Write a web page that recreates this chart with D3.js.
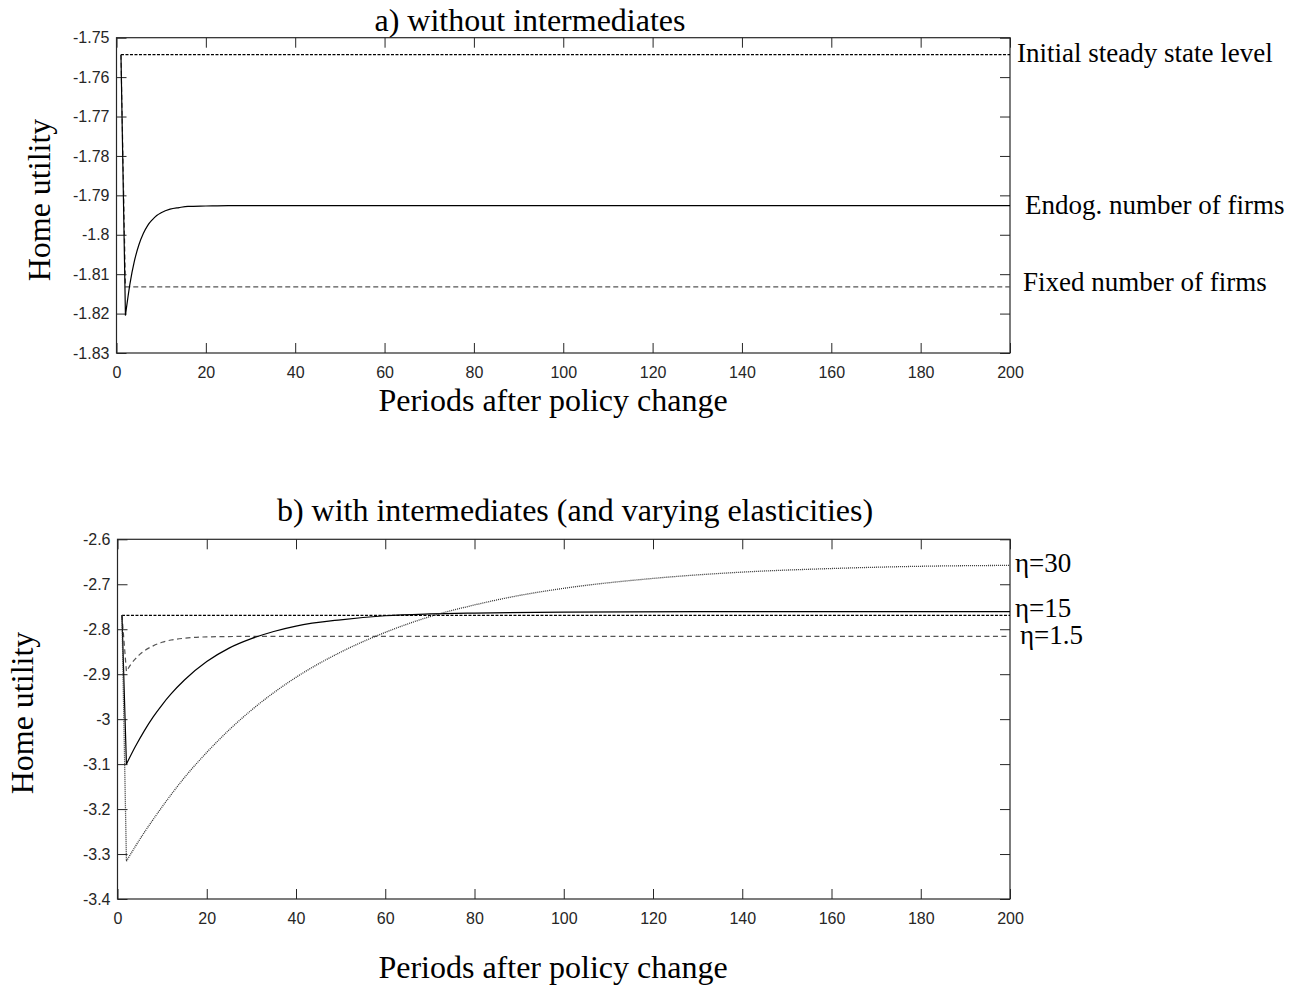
<!DOCTYPE html>
<html>
<head>
<meta charset="utf-8">
<script src="https://cdn.jsdelivr.net/npm/d3@7"></script>
<style>
  body { margin: 0; background: #fff; }
  .tick text { font-family: "Liberation Sans", Arial, sans-serif; font-size: 16px; fill: #262626; }
  .tick line { stroke: #262626; }
  .serif { font-family: "Liberation Serif", "Times New Roman", serif; fill: #000; }
</style>
</head>
<body>
<div id="chart"></div>
<script>
// tick values
var xTicks = [0, 20, 40, 60, 80, 100, 120, 140, 160, 180, 200];
var yTicksA = [-1.75, -1.76, -1.77, -1.78, -1.79, -1.8, -1.81, -1.82, -1.83];
var yTicksB = [-2.6, -2.7, -2.8, -2.9, -3, -3.1, -3.2, -3.3, -3.4];

// panel a) without intermediates
var initAPeriods = [1, 200];
var initAValues = [-1.7543, -1.7543];
var endogPeriods = [1, 2, 3, 4, 5, 6, 7, 8, 9, 10, 12, 14, 16, 20, 25, 200];
var endogValues = [-1.7543, -1.8205, -1.8125, -1.8067, -1.8026, -1.7997, -1.7976, -1.7962, -1.7951, -1.7944, -1.7935, -1.7931, -1.7928, -1.7927, -1.7926, -1.7926];
var fixedPeriods = [1, 2, 200];
var fixedValues = [-1.7543, -1.8132, -1.8132];

// panel b) with intermediates
var initBPeriods = [1, 200];
var initBValues = [-2.769, -2.769];
var eta15Periods = [1, 2, 4, 6, 8, 10, 12, 15, 20, 25, 30, 35, 40, 50, 60, 70, 80, 100, 130, 200];
var eta15Values = [-2.769, -3.100, -3.061, -3.026, -2.995, -2.968, -2.944, -2.913, -2.872, -2.842, -2.821, -2.805, -2.793, -2.779, -2.770, -2.766, -2.764, -2.762, -2.761, -2.761];
var eta1_5Periods = [1, 2, 3, 4, 5, 6, 8, 10, 12, 15, 20, 30, 200];
var eta1_5Values = [-2.769, -2.894, -2.878, -2.866, -2.856, -2.848, -2.837, -2.829, -2.824, -2.820, -2.817, -2.816, -2.816];
var eta30Periods = [1, 2, 4, 6, 8, 10, 15, 20, 25, 30, 40, 50, 60, 70, 80, 90, 100, 120, 140, 160, 180, 200];
var eta30Values = [-2.769, -3.316, -3.283, -3.252, -3.223, -3.195, -3.130, -3.074, -3.024, -2.980, -2.907, -2.851, -2.807, -2.772, -2.746, -2.725, -2.709, -2.687, -2.673, -2.665, -2.660, -2.658];

var svg = d3.select("#chart")
  .append("svg")
    .attr("width", 1300)
    .attr("height", 998);

svg.append("rect").attr("width", 1300).attr("height", 998).attr("fill", "#fff");

function fmt(d) { return String(+d.toFixed(2)); }

function drawPanel(p) {
  var x = d3.scaleLinear().domain([0, 200]).range([p.left, p.right]);
  var y = d3.scaleLinear().domain(p.yDomain).range([p.bottom, p.top]);
  var g = svg.append("g");

  // inward ticks on all four sides
  g.append("g")
    .attr("transform", "translate(0," + p.bottom + ")")
    .call(d3.axisBottom(x).tickValues(xTicks).tickSize(-10).tickSizeOuter(0).tickPadding(14).tickFormat(d3.format("d")));
  g.append("g")
    .attr("transform", "translate(0," + p.top + ")")
    .call(d3.axisTop(x).tickValues(xTicks).tickSize(-10).tickSizeOuter(0).tickFormat(""));
  g.append("g")
    .attr("transform", "translate(" + p.left + ",0)")
    .call(d3.axisLeft(y).tickValues(p.yTicks).tickSize(-10).tickSizeOuter(0).tickPadding(7).tickFormat(fmt));
  g.append("g")
    .attr("transform", "translate(" + p.right + ",0)")
    .call(d3.axisRight(y).tickValues(p.yTicks).tickSize(-10).tickSizeOuter(0).tickFormat(""));
  g.selectAll(".domain").remove();

  g.append("rect")
    .attr("x", p.left).attr("y", p.top)
    .attr("width", p.right - p.left).attr("height", p.bottom - p.top)
    .attr("fill", "none").attr("stroke", "#262626").attr("stroke-width", 1.2);

  var smooth = d3.line()
    .x(function (d) { return x(d[0]); })
    .y(function (d) { return y(d[1]); })
    .curve(d3.curveMonotoneX);
  var straight = d3.line()
    .x(function (d) { return x(d[0]); })
    .y(function (d) { return y(d[1]); });

  p.series.forEach(function (s) {
    var pts = d3.zip(s.periods, s.values);
    // sharp drop from period 1 to 2, smooth recovery afterwards
    var d = straight(pts.slice(0, 2));
    if (pts.length > 2) d += smooth(pts.slice(1)).replace(/^M/, "L");
    g.append("path")
      .attr("fill", "none")
      .attr("stroke", s.color)
      .attr("stroke-width", s.width)
      .attr("stroke-dasharray", s.dash)
      .attr("d", d);
  });

  // title
  g.append("text").attr("class", "serif")
    .attr("x", p.titleX).attr("y", p.titleY)
    .attr("text-anchor", "middle")
    .style("font-size", "32px")
    .text(p.title);

  // x label
  g.append("text").attr("class", "serif")
    .attr("x", 553).attr("y", p.xLabelY)
    .attr("text-anchor", "middle")
    .style("font-size", "32px")
    .text("Periods after policy change");

  // y label
  g.append("text").attr("class", "serif")
    .attr("transform", "translate(" + p.yLabelX + "," + p.yLabelY + ") rotate(-90)")
    .attr("text-anchor", "middle")
    .style("font-size", "32px")
    .text("Home utility");

  // line labels
  p.labels.forEach(function (l) {
    g.append("text").attr("class", "serif")
      .attr("x", l.x).attr("y", l.y)
      .style("font-size", "27px")
      .text(l.text);
  });
}

drawPanel({
  left: 116.5, right: 1010, top: 37.7, bottom: 353,
  yDomain: [-1.83, -1.75], yTicks: yTicksA,
  title: "a) without intermediates", titleX: 530, titleY: 31,
  xLabelY: 411, yLabelX: 50, yLabelY: 200,
  series: [
    { periods: initAPeriods, values: initAValues, color: "#000", width: 1.2, dash: "3,1.5" },
    { periods: fixedPeriods, values: fixedValues, color: "#555", width: 1.2, dash: "5,3" },
    { periods: endogPeriods, values: endogValues, color: "#000", width: 1.2, dash: null }
  ],
  labels: [
    { text: "Initial steady state level", x: 1017, y: 62 },
    { text: "Endog. number of firms", x: 1025, y: 214 },
    { text: "Fixed number of firms", x: 1023, y: 291 }
  ]
});

drawPanel({
  left: 117.5, right: 1010, top: 539.3, bottom: 899,
  yDomain: [-3.4, -2.6], yTicks: yTicksB,
  title: "b) with intermediates (and varying elasticities)", titleX: 575, titleY: 521,
  xLabelY: 978, yLabelX: 33, yLabelY: 713,
  series: [
    { periods: initBPeriods, values: initBValues, color: "#000", width: 1.2, dash: "3,1.5" },
    { periods: eta1_5Periods, values: eta1_5Values, color: "#555", width: 1.2, dash: "5,3.5" },
    { periods: eta15Periods, values: eta15Values, color: "#000", width: 1.2, dash: null },
    { periods: eta30Periods, values: eta30Values, color: "#333", width: 1.3, dash: "1,1" }
  ],
  labels: [
    { text: "η=30", x: 1015, y: 572 },
    { text: "η=15", x: 1015, y: 617 },
    { text: "η=1.5", x: 1020, y: 644 }
  ]
});
</script>
</body>
</html>
